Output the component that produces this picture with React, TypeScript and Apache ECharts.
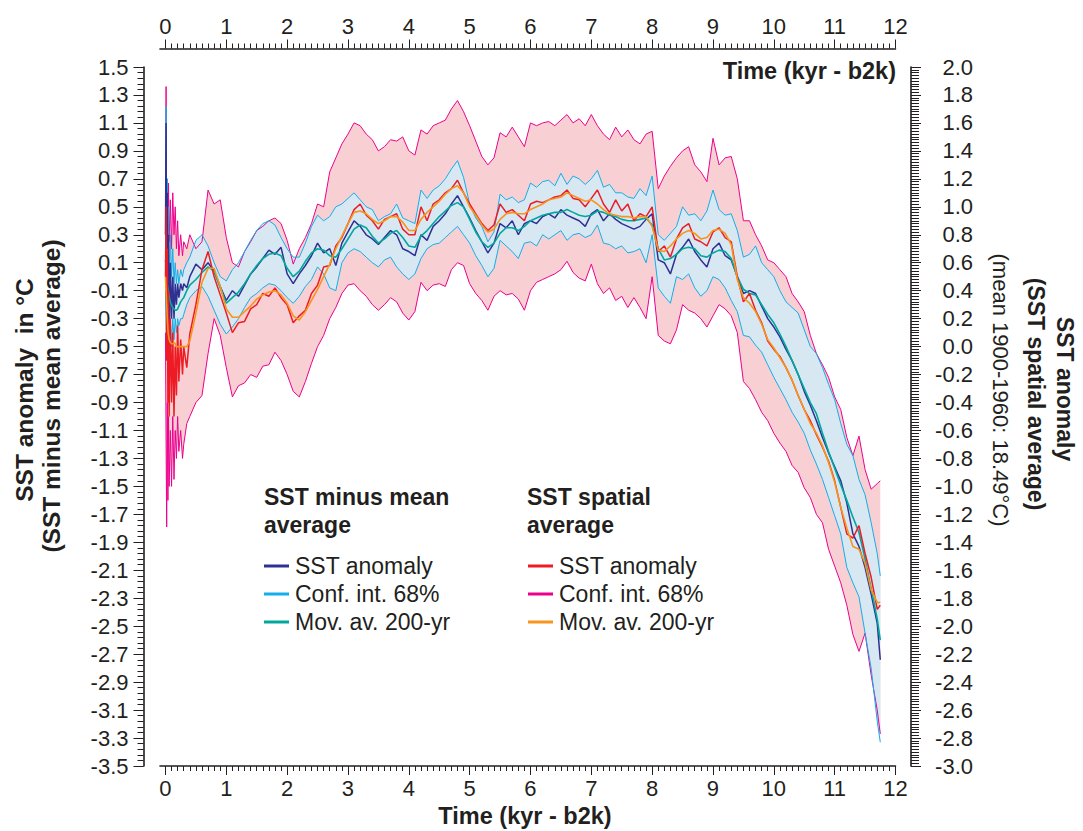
import React, { useEffect, useRef } from "react";
import * as echarts from "echarts";

// ---------- data (time in kyr b2k) ----------
const TIME = [
  0, 0.01, 0.02, 0.03, 0.04, 0.05, 0.06, 0.08, 0.1, 0.12, 0.14, 0.16, 0.18, 0.2, 0.22, 0.25, 0.28, 0.3, 0.35,
  0.4, 0.5, 0.6, 0.7, 0.8, 0.9,
  1.0, 1.1, 1.2, 1.3, 1.4, 1.5, 1.6, 1.7, 1.8, 1.9,
  2.0, 2.1, 2.2, 2.3, 2.4, 2.5, 2.6, 2.7, 2.8, 2.9,
  3.0, 3.1, 3.2, 3.3, 3.4, 3.5, 3.6, 3.7, 3.8, 3.9,
  4.0, 4.1, 4.2, 4.3, 4.4, 4.5, 4.6, 4.7, 4.8, 4.9,
  5.0, 5.1, 5.2, 5.3, 5.4, 5.5, 5.6, 5.7, 5.8, 5.9,
  6.0, 6.1, 6.2, 6.3, 6.4, 6.5, 6.6, 6.7, 6.8, 6.9,
  7.0, 7.1, 7.2, 7.3, 7.4, 7.5, 7.6, 7.7, 7.8, 7.9,
  8.0, 8.1, 8.2, 8.3, 8.4, 8.5, 8.6, 8.7, 8.8, 8.9,
  9.0, 9.1, 9.2, 9.3, 9.4, 9.5, 9.6, 9.7, 9.8, 9.9,
  10.0, 10.1, 10.2, 10.3, 10.4, 10.5, 10.6, 10.7, 10.8, 10.9,
  11.0, 11.1, 11.2, 11.3, 11.4, 11.5, 11.6, 11.7,
  11.75,
];

// SST minus mean average (left axis, °C)
const NAVY_ANOM = [
  0.3, 1.1, -0.2, 0.6, -0.4, 0.3, -0.5, 0.1, -0.3, 0.0, -0.3, -0.05, -0.2, -0.05, -0.15, -0.05, -0.1, -0.05, -0.08,
  0.0, 0.09, 0.05, 0.1, 0.04, -0.07,
  -0.17, -0.1, -0.14, -0.06, 0.02, 0.07, 0.13, 0.19, 0.16, 0.21,
  0.02, -0.05, 0.02, 0.08, 0.15, 0.24, 0.17, 0.2, 0.08, 0.24,
  0.32, 0.4, 0.36, 0.3, 0.27, 0.23, 0.28, 0.33, 0.3, 0.2,
  0.18, 0.15, 0.3, 0.26, 0.36, 0.4, 0.45, 0.52, 0.58, 0.5,
  0.42, 0.33, 0.25, 0.17, 0.24, 0.38, 0.35, 0.4, 0.3, 0.38,
  0.4, 0.38, 0.43, 0.45, 0.42, 0.48, 0.44, 0.42, 0.4, 0.36,
  0.45, 0.48, 0.4, 0.45, 0.41, 0.38, 0.36, 0.34, 0.36, 0.41,
  0.45, 0.12, 0.1, 0.02, 0.16, 0.21, 0.27, 0.18, 0.12, 0.07,
  0.2, 0.24, 0.15, 0.12, 0.0, -0.12, -0.1, -0.12, -0.21, -0.3,
  -0.36, -0.43, -0.52, -0.6, -0.7, -0.82, -0.92, -1.03, -1.15, -1.26,
  -1.36, -1.46, -1.62, -1.84, -1.93, -2.08, -2.27, -2.48,
  -2.74,
];
const NAVY_CONF_HI = [
  0.3, 1.22, 0.2, 0.7, 0.0, 0.5, -0.1, 0.3, 0.0, 0.2, -0.05, 0.1, -0.05, 0.05, -0.05, 0.05, 0.0, 0.05, 0.1,
  0.14, 0.26, 0.3, 0.22, 0.1, 0.0,
  -0.03, 0.05, 0.1, 0.18, 0.26, 0.33, 0.38, 0.4, 0.37, 0.28,
  0.2, 0.14, 0.14, 0.24, 0.36, 0.44, 0.4, 0.43, 0.5, 0.52,
  0.56, 0.6, 0.55, 0.5, 0.48, 0.4, 0.43, 0.45, 0.52, 0.42,
  0.4, 0.38, 0.62, 0.56, 0.62, 0.65, 0.7, 0.77, 0.83, 0.71,
  0.52, 0.42, 0.36, 0.25, 0.32, 0.59, 0.55, 0.57, 0.53, 0.55,
  0.67, 0.64, 0.68, 0.69, 0.65, 0.74, 0.66, 0.72, 0.7, 0.66,
  0.7, 0.76, 0.64, 0.66, 0.6, 0.6, 0.57, 0.56, 0.63, 0.58,
  0.72, 0.3, 0.26, 0.31, 0.36, 0.5, 0.44, 0.45, 0.4, 0.47,
  0.62, 0.48, 0.44, 0.45, 0.33, 0.14, 0.16, 0.22, 0.1, 0.05,
  0.0, -0.1, -0.18, -0.22, -0.26, -0.38, -0.5, -0.55, -0.65, -0.77,
  -0.88, -1.05, -1.2, -1.28, -1.45, -1.56, -1.76, -1.98,
  -2.14,
];
const NAVY_CONF_LO = [
  -0.1, -0.3, -0.6, -0.2, -0.7, -0.3, -0.6, -0.3, -0.5, -0.3, -0.45, -0.3, -0.4, -0.3, -0.35, -0.3, -0.3, -0.27, -0.2,
  -0.15, -0.1, -0.07, -0.14, -0.24, -0.34,
  -0.41, -0.36, -0.3, -0.22, -0.15, -0.12, -0.08, -0.05, -0.06, -0.1,
  -0.15, -0.19, -0.14, -0.07, -0.02, 0.07, 0.02, -0.08, -0.1, 0.1,
  0.17, 0.2, 0.18, 0.14, 0.1, 0.07, 0.12, 0.14, 0.07, 0.02,
  -0.02, 0.02, 0.13, 0.2, 0.23, 0.24, 0.28, 0.32, 0.36, 0.3,
  0.24, 0.15, 0.08, 0.0, 0.06, 0.26, 0.22, 0.18, 0.13, 0.24,
  0.25, 0.22, 0.3, 0.27, 0.3, 0.33, 0.26, 0.3, 0.31, 0.28,
  0.3, 0.37, 0.24, 0.23, 0.2, 0.22, 0.17, 0.18, 0.2, 0.1,
  0.3, -0.08, -0.14, -0.19, 0.0, -0.02, 0.02, -0.08, -0.14, -0.1,
  0.0, -0.02, -0.08, -0.17, -0.25, -0.42, -0.43, -0.49, -0.54, -0.63,
  -0.72, -0.8, -0.88, -0.97, -1.04, -1.12, -1.24, -1.34, -1.45, -1.58,
  -1.71, -1.84, -2.08, -2.19, -2.29, -2.55, -2.8, -3.18,
  -3.33,
];
const NAVY_MOVAV = [
  0.12, 0.08, -0.03, -0.06, -0.09, -0.11, -0.14, -0.18, -0.21, -0.22, -0.23, -0.24, -0.24, -0.23, -0.21, -0.18, -0.16, -0.15, -0.1,
  -0.06, -0.02, 0.03, 0.07, 0.04, -0.08,
  -0.19, -0.15, -0.11, -0.05, 0.02, 0.08, 0.13, 0.16, 0.17, 0.15,
  0.06, 0.0, 0.04, 0.11, 0.17, 0.2, 0.19, 0.15, 0.14, 0.2,
  0.27, 0.34, 0.37, 0.35, 0.29, 0.24, 0.27, 0.31, 0.33, 0.28,
  0.22, 0.21, 0.29, 0.33, 0.38, 0.43, 0.47, 0.51, 0.53, 0.5,
  0.41, 0.32, 0.25, 0.21, 0.24, 0.31, 0.35, 0.35, 0.33, 0.36,
  0.4, 0.42, 0.44, 0.45, 0.46, 0.46, 0.48, 0.46, 0.44, 0.43,
  0.44, 0.47, 0.46, 0.44, 0.43, 0.41, 0.4, 0.4, 0.41, 0.42,
  0.37, 0.2, 0.12, 0.13, 0.16, 0.2, 0.21, 0.2, 0.15, 0.14,
  0.17, 0.19, 0.18, 0.13, 0.0, -0.09, -0.12, -0.13, -0.2, -0.27,
  -0.33, -0.41, -0.5, -0.6, -0.7, -0.8, -0.9, -0.98, -1.12, -1.25,
  -1.37, -1.49, -1.6, -1.72, -1.83, -2.02, -2.23, -2.45,
  -2.6,
];

// SST spatial average (right axis, °C relative to 1900-1960 mean)
const RED_ANOM = [
  0.5, 1.0, -0.1, 0.7, -0.4, 0.4, -0.5, 0.2, -0.4, 0.1, -0.5, 0.0, -0.35, 0.15, -0.25, 0.05, -0.2, 0.0, -0.15,
  0.09, 0.3, 0.55, 0.68, 0.5, 0.37,
  0.24, 0.1, 0.17, 0.18, 0.27, 0.3, 0.38, 0.36, 0.42, 0.35,
  0.3, 0.17, 0.22, 0.26, 0.38, 0.44, 0.57, 0.58, 0.72, 0.78,
  0.88, 0.98, 1.02, 0.94, 0.9, 0.84, 0.91, 0.93, 0.95, 0.84,
  0.8, 0.8, 1.0, 0.9, 1.02, 1.05, 1.1, 1.13, 1.19, 1.1,
  1.02, 0.95, 0.88, 0.83, 0.87, 1.02, 0.96, 0.98, 0.94, 0.9,
  1.02, 1.04, 1.03, 1.05, 1.07, 1.08, 1.12, 1.06, 1.05, 1.0,
  1.06, 1.12, 1.02, 0.96, 1.05, 0.97, 1.02, 0.9, 0.95, 0.93,
  1.0, 0.68, 0.72, 0.64, 0.77, 0.85, 0.88, 0.77, 0.75, 0.72,
  0.82, 0.85, 0.78, 0.75, 0.5, 0.32, 0.38, 0.26, 0.17, 0.04,
  -0.02, -0.07, -0.15, -0.24, -0.35, -0.45, -0.53, -0.63, -0.72, -0.82,
  -0.96, -1.15, -1.34, -1.37, -1.28, -1.48, -1.65, -1.88,
  -1.85,
];
const RED_CONF_HI = [
  0.9, 1.86, 0.8, 1.2, 0.7, 1.17, 0.75, 1.05, 0.7, 1.1, 0.8, 1.0, 0.7, 0.9, 0.65, 0.8, 0.65, 0.75, 0.7,
  0.8, 0.7, 0.75, 1.12, 1.02, 1.05,
  0.78, 0.6, 0.57, 0.68, 0.75, 0.83, 0.86, 0.9, 0.92, 0.88,
  0.76, 0.59, 0.7, 0.78, 0.88, 1.02, 1.0, 1.25, 1.35, 1.45,
  1.52, 1.6, 1.58, 1.52, 1.48, 1.4, 1.43, 1.48, 1.47, 1.5,
  1.4, 1.37, 1.55, 1.52, 1.58, 1.6, 1.62, 1.7, 1.76, 1.68,
  1.58, 1.47, 1.36, 1.3, 1.35, 1.53, 1.5, 1.57, 1.5, 1.43,
  1.6, 1.58, 1.6, 1.61, 1.58, 1.62, 1.66, 1.6, 1.63, 1.58,
  1.66, 1.58, 1.52, 1.48, 1.57, 1.5, 1.55, 1.48, 1.45, 1.52,
  1.54, 1.13, 1.22, 1.29, 1.35, 1.4, 1.43, 1.3, 1.25, 1.18,
  1.49, 1.3, 1.35, 1.36, 1.2, 0.9, 0.9, 0.8, 0.72, 0.62,
  0.6, 0.55, 0.5, 0.38, 0.32, 0.25, 0.08, -0.05, -0.13, -0.22,
  -0.36, -0.45, -0.65, -0.78, -0.64, -0.88, -1.02, -0.98,
  -0.96,
];
const RED_CONF_LO = [
  0.1, -0.7, -1.29, -0.4, -1.1, -0.5, -1.0, -0.6, -1.0, -0.5, -0.95, -0.6, -0.8, -0.5, -0.75, -0.6, -0.8, -0.7, -0.55,
  -0.5, -0.4, -0.35, -0.05, 0.2, 0.08,
  -0.15, -0.36, -0.28, -0.26, -0.2, -0.22, -0.14, -0.13, -0.04, -0.1,
  -0.2, -0.32, -0.36, -0.25, -0.12, 0.0, 0.08, 0.2, 0.28, 0.38,
  0.44, 0.45, 0.4, 0.36, 0.3, 0.26, 0.3, 0.35, 0.32, 0.24,
  0.19, 0.25, 0.46, 0.4, 0.44, 0.45, 0.43, 0.55, 0.6, 0.58,
  0.45, 0.38, 0.33, 0.26, 0.36, 0.4, 0.37, 0.38, 0.34, 0.26,
  0.4, 0.46, 0.48, 0.5, 0.52, 0.55, 0.61, 0.53, 0.49, 0.47,
  0.59, 0.45, 0.38, 0.42, 0.33, 0.36, 0.28, 0.35, 0.28, 0.2,
  0.5, 0.08, 0.04, 0.02, 0.12, 0.3, 0.26, 0.24, 0.2, 0.14,
  0.22, 0.3, 0.27, 0.22, 0.1, -0.25, -0.3, -0.38, -0.47, -0.53,
  -0.62, -0.69, -0.75, -0.85, -0.9, -1.01, -1.08, -1.2, -1.26, -1.45,
  -1.57, -1.69, -1.85, -2.06, -2.18, -2.05, -2.35, -2.6,
  -2.77,
];
const RED_MOVAV = [
  0.5, 0.4, 0.3, 0.2, 0.12, 0.08, 0.05, 0.03, 0.02, 0.02, 0.03, 0.02, 0.0, 0.0, 0.0, 0.0, 0.0, 0.0, 0.0,
  0.04, 0.24, 0.46, 0.56, 0.56, 0.43,
  0.27, 0.21, 0.21, 0.25, 0.29, 0.34, 0.37, 0.39, 0.4, 0.37,
  0.31, 0.22, 0.19, 0.25, 0.33, 0.41, 0.5, 0.59, 0.7, 0.79,
  0.88, 0.96, 0.97, 0.95, 0.91, 0.88, 0.9, 0.93, 0.93, 0.89,
  0.83, 0.83, 0.91, 0.96, 1.0, 1.04, 1.09, 1.13, 1.15, 1.1,
  1.0, 0.94, 0.87, 0.82, 0.84, 0.91, 0.95, 0.96, 0.95, 0.95,
  0.98, 1.0, 1.02, 1.05, 1.06, 1.07, 1.1, 1.08, 1.06, 1.04,
  1.05, 1.02, 0.98, 0.95, 0.94, 0.93, 0.93, 0.92, 0.93, 0.93,
  0.86, 0.69, 0.68, 0.72, 0.77, 0.81, 0.83, 0.81, 0.77, 0.78,
  0.83, 0.84, 0.81, 0.73, 0.48, 0.35, 0.31, 0.25, 0.16, 0.05,
  -0.01, -0.08, -0.15, -0.24, -0.35, -0.45, -0.55, -0.62, -0.71, -0.83,
  -0.97, -1.15, -1.3, -1.43, -1.45, -1.55, -1.74, -1.83,
  -1.83,
];

// ---------- tick labels ----------
const X_LABELS = [0, 1, 2, 3, 4, 5, 6, 7, 8, 9, 10, 11, 12];
const Y_LEFT_LABELS = [
  1.5, 1.3, 1.1, 0.9, 0.7, 0.5, 0.3, 0.1, -0.1, -0.3, -0.5, -0.7, -0.9, -1.1, -1.3, -1.5, -1.7, -1.9,
  -2.1, -2.3, -2.5, -2.7, -2.9, -3.1, -3.3, -3.5,
];
const Y_RIGHT_LABELS = [
  2.0, 1.8, 1.6, 1.4, 1.2, 1.0, 0.8, 0.6, 0.4, 0.2, 0.0, -0.2, -0.4, -0.6, -0.8, -1.0, -1.2, -1.4,
  -1.6, -1.8, -2.0, -2.2, -2.4, -2.6, -2.8, -3.0,
];

// ---------- styles ----------
const FONT = '"Liberation Sans", Arial, Helvetica, sans-serif';
const INK = "#231f20";
const C_NAVY = "#2e3192";
const C_CYAN = "#12aee9";
const C_TEAL = "#00a79d";
const C_RED = "#ed1c24";
const C_MAGENTA = "#ec008c";
const C_ORANGE = "#f7941d";
const F_PINK = "#f8d0d3";
const F_BLUE = "#d8e8f3";

function pairs(vals: number[]) {
  const n = Math.min(TIME.length, vals.length);
  const out: number[][] = [];
  for (let i = 0; i < n; i++) out.push([TIME[i], vals[i]]);
  return out;
}

function bandSeries(hi: number[], lo: number[], yAxisIndex: number, color: string) {
  return {
    type: "custom",
    coordinateSystem: "cartesian2d",
    xAxisIndex: 0,
    yAxisIndex,
    silent: true,
    data: [[TIME[0], hi[0]]],
    renderItem: (_params: any, api: any) => {
      const n = Math.min(TIME.length, hi.length, lo.length);
      const top: number[][] = [];
      const bottom: number[][] = [];
      for (let i = 0; i < n; i++) top.push(api.coord([TIME[i], hi[i]]));
      for (let i = n - 1; i >= 0; i--) bottom.push(api.coord([TIME[i], lo[i]]));
      return {
        type: "polygon",
        shape: { points: top.concat(bottom) },
        style: { fill: color, stroke: null },
        silent: true,
      };
    },
  };
}

function lineSeries(vals: number[], yAxisIndex: number, color: string, width: number) {
  return {
    type: "line",
    xAxisIndex: 0,
    yAxisIndex,
    data: pairs(vals),
    symbol: "none",
    showSymbol: false,
    silent: true,
    lineStyle: { color, width },
    itemStyle: { color },
  };
}

const xMinor: number[] = [];
for (let i = 0; i <= 120; i++) if (i % 10 !== 0) xMinor.push(i / 10);
const yLeftMinor: number[] = [];
for (let i = 0; i <= 125; i++) yLeftMinor.push(Math.round((-3.5 + i * 0.04) * 100) / 100);
const yRightMinor: number[] = [];
for (let i = 0; i <= 250; i++) yRightMinor.push(Math.round((-3 + i * 0.02) * 100) / 100);

const X_MIN = -0.09;
const X_MAX = 12;

function xAxisDef(position: "top" | "bottom", offset: number, major: boolean) {
  return {
    type: "value",
    gridIndex: 0,
    position,
    offset,
    min: X_MIN,
    max: X_MAX,
    axisLine: { show: major, onZero: false, lineStyle: { color: INK, width: 1.6 } },
    axisTick: {
      show: true,
      length: major ? 9 : 5,
      customValues: major ? X_LABELS : xMinor,
      lineStyle: { color: INK, width: 1 },
    },
    axisLabel: {
      show: major,
      customValues: X_LABELS,
      fontSize: 22,
      fontFamily: FONT,
      color: INK,
      margin: 11,
    },
    splitLine: { show: false },
  };
}

function yAxisDef(
  position: "left" | "right",
  offset: number,
  min: number,
  max: number,
  major: boolean,
  labels: number[],
  minor: number[]
) {
  return {
    type: "value",
    gridIndex: 0,
    position,
    offset,
    min,
    max,
    axisLine: { show: major, onZero: false, lineStyle: { color: INK, width: 1.6 } },
    axisTick: {
      show: true,
      length: major ? 10 : position === "left" ? 6 : 8,
      customValues: major ? labels : minor,
      lineStyle: { color: INK, width: 1 },
    },
    axisLabel: {
      show: major,
      customValues: labels,
      formatter: (v: number) => v.toFixed(1),
      fontSize: 22,
      fontFamily: FONT,
      color: INK,
      margin: position === "left" ? 15 : 62,
      align: "right",
    },
    splitLine: { show: false },
  };
}

function txt(text: string, x: number, y: number, opts: any = {}) {
  const weight = opts.bold ? "bold " : "";
  const size = opts.size || 23;
  const align = opts.align || "left";
  return {
    type: "text",
    x,
    y,
    rotation: opts.rotation || 0,
    silent: true,
    style: {
      text,
      font: `${weight}${size}px ${FONT}`,
      fill: INK,
      align,
      textAlign: align,
      verticalAlign: "middle",
      textVerticalAlign: "middle",
    },
  };
}

function legendLine(x: number, y: number, color: string) {
  return {
    type: "line",
    silent: true,
    shape: { x1: x, y1: y, x2: x + 25, y2: y },
    style: { stroke: color, lineWidth: 3 },
  };
}

const option = {
  animation: false,
  backgroundColor: "#ffffff",
  textStyle: { fontFamily: FONT },
  grid: { left: 160, right: 187.5, top: 67, bottom: 65, containLabel: false, outerBoundsMode: "none" },
  xAxis: [
    xAxisDef("bottom", 0, true),
    xAxisDef("bottom", 0, false),
    xAxisDef("top", 18.5, true),
    xAxisDef("top", 18.5, false),
  ],
  yAxis: [
    yAxisDef("left", 16.5, -3.5, 1.5, true, Y_LEFT_LABELS, yLeftMinor),
    yAxisDef("right", 15.5, -3, 2, true, Y_RIGHT_LABELS, yRightMinor),
    yAxisDef("left", 16.5, -3.5, 1.5, false, Y_LEFT_LABELS, yLeftMinor),
    yAxisDef("right", 15.5, -3, 2, false, Y_RIGHT_LABELS, yRightMinor),
  ],
  series: [
    bandSeries(RED_CONF_HI, RED_CONF_LO, 1, F_PINK),
    lineSeries(RED_CONF_HI, 1, C_MAGENTA, 1),
    lineSeries(RED_CONF_LO, 1, C_MAGENTA, 1),
    bandSeries(NAVY_CONF_HI, NAVY_CONF_LO, 0, F_BLUE),
    lineSeries(NAVY_CONF_HI, 0, C_CYAN, 1),
    lineSeries(NAVY_CONF_LO, 0, C_CYAN, 1),
    lineSeries(NAVY_ANOM, 0, C_NAVY, 1.5),
    lineSeries(NAVY_MOVAV, 0, C_TEAL, 1.6),
    lineSeries(RED_ANOM, 1, C_RED, 1.5),
    lineSeries(RED_MOVAV, 1, C_ORANGE, 1.6),
  ],
  graphic: {
    elements: [
      txt("Time (kyr - b2k)", 896, 71, { bold: true, align: "right", size: 23.5 }),
      txt("Time (kyr - b2k)", 525, 816, { bold: true, align: "center", size: 23.5 }),
      txt("SST anomaly  in °C", 24, 390, { bold: true, align: "center", rotation: Math.PI / 2, size: 24.5 }),
      txt("(SST minus mean average)", 51, 396, { bold: true, align: "center", rotation: Math.PI / 2, size: 24.5 }),
      txt("SST anomaly", 1065, 389, { bold: true, align: "center", rotation: -Math.PI / 2 }),
      txt("(SST spatial average)", 1036, 394, { bold: true, align: "center", rotation: -Math.PI / 2 }),
      txt("(mean 1900-1960: 18.49°C)", 1000, 390, { size: 22, align: "center", rotation: -Math.PI / 2 }),
      // legend: SST minus mean average
      txt("SST minus mean", 264, 497, { bold: true }),
      txt("average", 264, 525, { bold: true }),
      legendLine(264, 566, C_NAVY),
      legendLine(264, 594, C_CYAN),
      legendLine(264, 622, C_TEAL),
      txt("SST anomaly", 295, 566),
      txt("Conf. int. 68%", 295, 594),
      txt("Mov. av. 200-yr", 295, 622),
      // legend: SST spatial average
      txt("SST spatial", 527, 497, { bold: true }),
      txt("average", 527, 525, { bold: true }),
      legendLine(528, 566, C_RED),
      legendLine(528, 594, C_MAGENTA),
      legendLine(528, 622, C_ORANGE),
      txt("SST anomaly", 559, 566),
      txt("Conf. int. 68%", 559, 594),
      txt("Mov. av. 200-yr", 559, 622),
    ],
  },
};

export default function App() {
  const ref = useRef<HTMLDivElement>(null);
  useEffect(() => {
    document.body.style.margin = "0";
    if (!ref.current) return;
    const chart = echarts.init(ref.current, undefined, { renderer: "svg" });
    chart.setOption(option as any);
    return () => {
      chart.dispose();
    };
  }, []);
  return (
    <div
      ref={ref}
      style={{ position: "absolute", left: 0, top: 0, width: 1083, height: 831, background: "#fff" }}
    />
  );
}
